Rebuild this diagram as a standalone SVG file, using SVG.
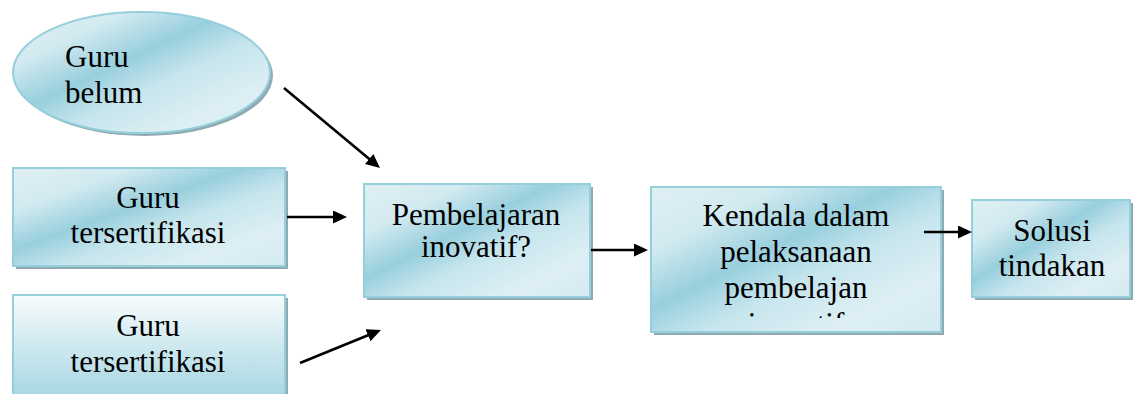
<svg xmlns="http://www.w3.org/2000/svg" width="1133" height="394" viewBox="0 0 1133 394">
<style>
text{font-family:'Liberation Serif','Times New Roman',Times,'DejaVu Serif',serif;font-size:31px;fill:#000}
.c{text-anchor:middle}
.shape{fill:url(#g);stroke:#96cfdc;stroke-width:2}
.shadow{fill:#8faab3}
.arr{stroke:#000;stroke-width:2.6;fill:none;marker-end:url(#ah)}
</style>
<defs>
<linearGradient id="g" x1="0" y1="0" x2="1" y2="1">
<stop offset="0" stop-color="#e0f0f4"/>
<stop offset="0.22" stop-color="#d2eaf0"/>
<stop offset="0.42" stop-color="#98cfdd"/>
<stop offset="0.58" stop-color="#c6e5ed"/>
<stop offset="0.8" stop-color="#ddeff4"/>
<stop offset="1" stop-color="#d4ebf1"/>
</linearGradient>
<linearGradient id="g2" x1="0" y1="0" x2="0" y2="1">
<stop offset="0" stop-color="#f8fcfd"/>
<stop offset="1" stop-color="#9fd3e0"/>
</linearGradient>
<marker id="ah" markerUnits="userSpaceOnUse" markerWidth="16" markerHeight="14" refX="4" refY="6.5" orient="auto">
<path d="M0,0 L14,6.5 L0,13 z" fill="#000"/>
</marker>
<clipPath id="kclip"><rect x="651" y="187" width="290" height="131"/></clipPath>
</defs>

<g id="node-guru-belum">
<ellipse class="shadow" cx="144.5" cy="75.5" rx="128.5" ry="60.5"/>
<ellipse class="shape" cx="141.5" cy="72.5" rx="128.5" ry="60.5"/>
<text x="65" y="67" font-family="Liberation Serif, serif">Guru</text>
<text x="65" y="103" font-family="Liberation Serif, serif">belum</text>
</g>

<g id="node-guru-tersertifikasi-1">
<rect class="shadow" x="16" y="171" width="272" height="98"/>
<rect class="shape" x="13" y="168" width="272" height="98"/>
<text class="c" x="148" y="208">Guru</text>
<text class="c" x="148" y="243">tersertifikasi</text>
</g>

<g id="node-guru-tersertifikasi-2">
<rect class="shadow" x="16" y="298" width="272" height="110"/>
<rect x="13" y="295" width="272" height="110" fill="url(#g2)" stroke="#96cfdc" stroke-width="2"/>
<text class="c" x="148" y="336">Guru</text>
<text class="c" x="148" y="372">tersertifikasi</text>
</g>

<g id="node-pembelajaran">
<rect class="shadow" x="367" y="187" width="226" height="113"/>
<rect class="shape" x="364" y="184" width="226" height="113"/>
<text class="c" x="476" y="225">Pembelajaran</text>
<text class="c" x="476" y="257">inovatif?</text>
</g>

<g id="node-kendala">
<rect class="shadow" x="654" y="190" width="290" height="145"/>
<rect class="shape" x="651" y="187" width="290" height="145"/>
<g clip-path="url(#kclip)">
<text class="c" x="796" y="226">Kendala dalam</text>
<text class="c" x="796" y="262">pelaksanaan</text>
<text class="c" x="796" y="298">pembelajan</text>
<text class="c" x="796" y="334">inovatif</text>
</g>
</g>

<g id="node-solusi">
<rect class="shadow" x="975" y="203" width="158" height="97"/>
<rect class="shape" x="972" y="200" width="158" height="97"/>
<text class="c" x="1052" y="241">Solusi</text>
<text class="c" x="1052" y="276">tindakan</text>
</g>

<g id="connectors">
<line class="arr" x1="284" y1="88" x2="372.3" y2="161.6"/>
<line class="arr" x1="287" y1="217" x2="337" y2="217"/>
<line class="arr" x1="300" y1="363" x2="371.7" y2="333.8"/>
<line class="arr" x1="591" y1="250" x2="638" y2="250"/>
<line class="arr" x1="924" y1="232" x2="962" y2="232"/>
</g>
</svg>
